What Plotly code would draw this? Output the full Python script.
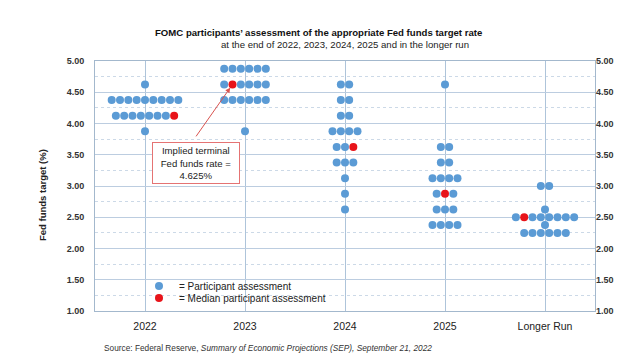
import plotly.graph_objects as go

# ---------------- data ----------------
years = ["2022", "2023", "2024", "2025", "Longer Run"]

rates_2022 = [4.625, 4.375, 4.125, 3.875]
counts_2022 = [1, 9, 8, 1]

rates_2023 = [4.875, 4.625, 4.375, 3.875]
counts_2023 = [6, 6, 6, 1]

rates_2024 = [4.625, 4.375, 4.125, 3.875, 3.625, 3.375, 3.125, 2.875, 2.625]
counts_2024 = [2, 2, 2, 4, 3, 3, 1, 1, 1]

rates_2025 = [4.625, 3.625, 3.375, 3.125, 2.875, 2.625, 2.375]
counts_2025 = [1, 2, 2, 4, 3, 3, 4]

rates_lr = [3.0, 2.625, 2.5, 2.375, 2.25]
counts_lr = [2, 1, 8, 1, 6]

median_rates = [4.125, 4.625, 3.625, 2.875, 2.5]
median_slot = [7, 1, 2, 1, 1]  # position of the median dot within its row (0 = leftmost)

y_ticks = [1.0, 1.5, 2.0, 2.5, 3.0, 3.5, 4.0, 4.5, 5.0]

# ---------------- build dot positions ----------------
all_rates = [rates_2022, rates_2023, rates_2024, rates_2025, rates_lr]
all_counts = [counts_2022, counts_2023, counts_2024, counts_2025, counts_lr]
dx = 0.0833

bx, by, rx, ry = [], [], [], []
for i, (rates, counts) in enumerate(zip(all_rates, all_counts)):
    for r, n in zip(rates, counts):
        for k in range(n):
            x = i + (k - (n - 1) / 2) * dx
            if r == median_rates[i] and k == median_slot[i]:
                rx.append(x)
                ry.append(r)
            else:
                bx.append(x)
                by.append(r)

BLUE = "#5b9bd5"
RED = "#e8141a"
FONT = "Liberation Sans, Arial, sans-serif"
GRID = "#bccde0"
MINOR = "#ccd9e7"
VGRID = "#aec4da"
AXIS = "#a3b8cd"

fig = go.Figure()
fig.add_trace(go.Scatter(
    x=bx, y=by, mode="markers", name="= Participant assessment",
    marker=dict(size=8, color=BLUE, line=dict(width=0)),
    legend="legend", hoverinfo="skip"))
fig.add_trace(go.Scatter(
    x=rx, y=ry, mode="markers", name="= Median participant assessment",
    marker=dict(size=8, color=RED, line=dict(width=0)),
    legend="legend2", hoverinfo="skip"))
# carrier for the right-hand axis
fig.add_trace(go.Scatter(x=[None], y=[None], yaxis="y2", showlegend=False,
                         hoverinfo="skip"))

# the page body keeps an 8px default margin, so the figure is 8px smaller
fig.update_layout(
    width=622, height=348,
    margin=dict(l=87, r=35, t=53, b=45),
    paper_bgcolor="white", plot_bgcolor="white",
    font=dict(family=FONT, color="#222222", size=10),
    xaxis=dict(
        range=[-0.5, 4.5], tickvals=list(range(len(years))), ticktext=years,
        showgrid=True, gridcolor=VGRID, gridwidth=1, zeroline=False,
        showline=True, linecolor=AXIS, linewidth=1, mirror=True,
        ticks="", ticklabelstandoff=5,
        tickfont=dict(family=FONT, size=10.5, color="#222222"),
    ),
    yaxis=dict(
        range=[1, 5], tickvals=y_ticks, tickformat=".2f",
        showgrid=True, gridcolor=GRID, gridwidth=1, zeroline=False,
        minor=dict(dtick=0.25, tick0=0, showgrid=True, gridcolor=MINOR,
                   griddash="dot", gridwidth=1),
        showline=True, linecolor=AXIS, linewidth=1, mirror=True,
        ticks="", ticklabelstandoff=8,
        tickfont=dict(family=FONT, size=9, color="#333333", weight="bold"),
    ),
    yaxis2=dict(
        range=[1, 5], tickvals=y_ticks, tickformat=".2f", overlaying="y",
        side="right", showgrid=False, zeroline=False, showline=False,
        ticks="", ticklabelstandoff=0,
        tickfont=dict(family=FONT, size=9, color="#333333", weight="bold"),
    ),
    showlegend=True,
    legend=dict(x=0.088, y=0.10, xanchor="left", yanchor="middle",
                bgcolor="rgba(0,0,0,0)", itemwidth=30,
                font=dict(family=FONT, size=10, color="#222222")),
    legend2=dict(x=0.088, y=0.052, xanchor="left", yanchor="middle",
                 bgcolor="rgba(0,0,0,0)", itemwidth=30,
                 font=dict(family=FONT, size=10, color="#222222")),
)

annotations = [
    dict(text="<b>FOMC participants’ assessment of the appropriate Fed funds target rate</b>",
         xref="paper", yref="paper", x=0.446, y=1.112, showarrow=False,
         xanchor="center", yanchor="middle",
         font=dict(family=FONT, size=9.6, color="#111111")),
    dict(text="at the end of 2022, 2023, 2024, 2025 and in the longer run",
         xref="paper", yref="paper", x=0.499, y=1.064, showarrow=False,
         xanchor="center", yanchor="middle",
         font=dict(family=FONT, size=9.6, color="#222222")),
    dict(text="<b>Fed funds target (%)</b>", textangle=-90,
         xref="paper", yref="paper", x=-0.106, y=0.464, showarrow=False,
         xanchor="center", yanchor="middle",
         font=dict(family=FONT, size=9.5, color="#222222")),
    dict(text="Source: Federal Reserve, <i>Summary of Economic Projections (SEP), September 21, 2022</i>",
         xref="paper", yref="paper", x=0.014, y=-0.146, showarrow=False,
         xanchor="left", yanchor="middle",
         font=dict(family=FONT, size=8.3, color="#333333")),
    # arrow to the 2023 median
    dict(text="", x=rx[1], y=ry[1], xref="x", yref="y",
         ax=0.5, ay=3.77, axref="x", ayref="y",
         showarrow=True, arrowhead=2, arrowsize=1, arrowwidth=1,
         arrowcolor="#d9534f", standoff=4),
    # callout box
    dict(text="Implied terminal<br>Fed funds rate =<br>4.625%",
         x=0.51, y=3.37, xref="x", yref="y", showarrow=False,
         xanchor="center", yanchor="middle", align="center",
         width=80, height=34, borderpad=3,
         bordercolor="#e57373", borderwidth=1, bgcolor="white",
         font=dict(family=FONT, size=9.6, color="#222222")),
]
fig.update_layout(annotations=annotations)

fig.write_html("out.html")
